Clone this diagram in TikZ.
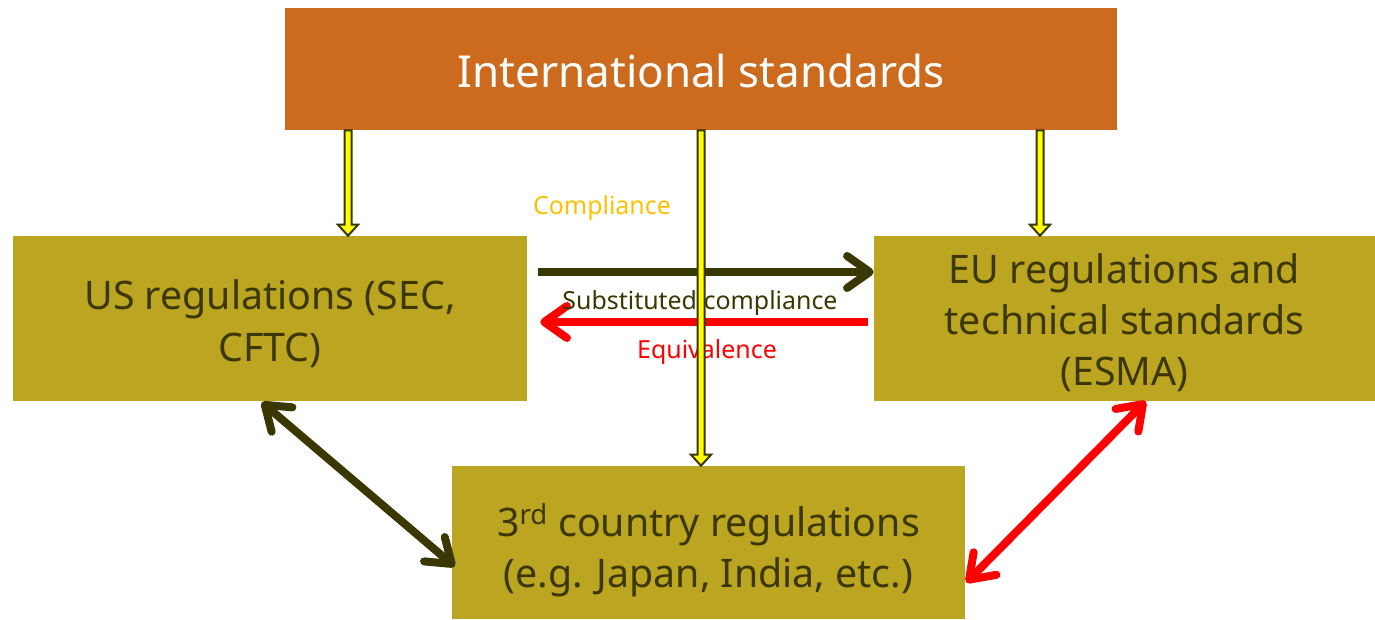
\documentclass[tikz,border=0pt]{standalone}
\usepackage{fontspec}
\setmainfont{Noto Sans}
\usetikzlibrary{arrows.meta,calc}
\definecolor{orbox}{RGB}{204,106,30}
\definecolor{olbox}{RGB}{188,165,32}
\definecolor{dkol}{RGB}{58,56,0}
\definecolor{gold}{RGB}{255,192,0}
\definecolor{yel}{RGB}{255,255,0}
\tikzset{
  box/.style={rectangle, inner sep=0pt, fill=olbox},
  boxtext/.style={inner sep=0pt, align=center, text=dkol,
     font=\fontsize{29.5}{38.5}\selectfont},
  ybar/.style={draw=dkol, fill=yel, line width=1.5pt, line join=miter},
  conn/.style={line width=6pt, line cap=round,
     {Straight Barb[length=17pt,width=24pt,line cap=round,line join=round]}-{Straight Barb[length=17pt,width=24pt,line cap=round,line join=round]}},
  oneway/.style={line width=6pt, -{Straight Barb[length=17pt,width=24pt,line cap=round,line join=round]}},
  lbl/.style={font=\fontsize{18.7}{22}\selectfont, inner sep=0pt}
}
\newcommand{\yarr}[2]{%
  \draw[ybar] ($(#1)+(-3.5,0)$) -- ($(#2)+(-3.5,-11)$) -- ($(#2)+(-10,-11)$) -- (#2)
     -- ($(#2)+(10,-11)$) -- ($(#2)+(3.5,-11)$) -- ($(#1)+(3.5,0)$) -- cycle;}
\begin{document}
\begin{tikzpicture}[x=0.75pt,y=-0.75pt]
\useasboundingbox (0,0) rectangle (1375,620);
\node[box, fill=orbox, minimum width=624pt, minimum height=91.5pt] (intl) at (701,69) {};
\node[boxtext, text=white, font=\fontsize{33}{38}\selectfont] (intlt) at ($(intl.center)+(0,2)$) {International standards};
\node[box, minimum width=385.5pt, minimum height=123.75pt] (us) at (270,318.5) {};
\node[boxtext] (ust) at ($(us.center)+(0,5)$) {US regulations (SEC,\\CFTC)};
\node[box, minimum width=375.75pt, minimum height=123.75pt] (eu) at (1124.5,318.5) {};
\node[boxtext] (eut) at ($(eu.center)+(0,4)$) {EU regulations and\\technical standards\\(ESMA)};
\node[box, minimum width=384.75pt, minimum height=114.75pt] (third) at (708.5,542.5) {};
\node[boxtext] (thirdt) at ($(third.center)+(0,8)$) {3\textsuperscript{rd} country regulations\\(e.g. Japan, India, etc.)};
% yellow arrows
\coordinate (xl) at (348,0);
\coordinate (xm) at (701,0);
\coordinate (xr) at (1040,0);
\coordinate (t1) at (intl.south -| xl); \coordinate (b1) at (us.north -| xl);
\coordinate (t2) at (intl.south -| xm); \coordinate (b2) at (third.north -| xm);
\coordinate (t3) at (intl.south -| xr); \coordinate (b3) at (eu.north -| xr);
\yarr{t1}{b1}
\yarr{t3}{b3}
% horizontal arrows
\coordinate (ys) at (0,272);
\coordinate (ye) at (0,322);
\coordinate (s1) at ($(us.east |- ys)+(11,0)$);
\coordinate (s2) at (eu.west |- ys);
\draw[oneway, draw=dkol] (s1) -- (s2);
\coordinate (e1) at ($(eu.west |- ye)+(-6,0)$);
\coordinate (e2) at ($(us.east |- ye)+(13,0)$);
\draw[oneway, draw=red] (e1) -- (e2);
\node[lbl, text=gold] (lc) at (602,208) {Compliance};
\node[lbl, text=dkol] (ls) at (700,303) {Substituted compliance};
\node[lbl, text=red] (le) at (707,352) {Equivalence};
\yarr{t2}{b2}
% diagonal arrows
\coordinate (d1) at ($(us.south west)+(249,1)$);
\coordinate (d2) at ($(third.west)+(3,24)$);
\draw[conn, draw=dkol] (d1) -- (d2);
\coordinate (r1) at ($(eu.south west)+(272,0)$);
\coordinate (r2) at ($(third.east)+(1,40)$);
\draw[conn, draw=red] (r1) -- (r2);
\end{tikzpicture}
\end{document}
